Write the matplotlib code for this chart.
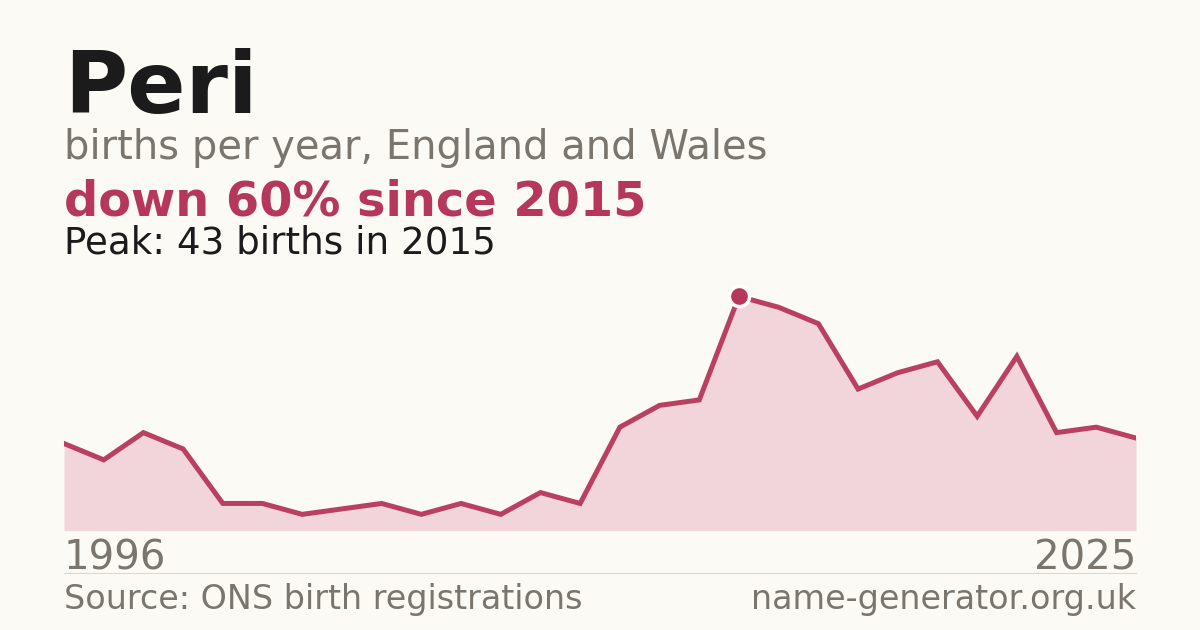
import numpy as np
import matplotlib
matplotlib.use("Agg")
import matplotlib.pyplot as plt

plt.rcParams["font.family"] = ["DejaVu Sans"]

# births per year (years with no published count are skipped)
years = [1996, 1997, 1999, 2000, 2001, 2003, 2004, 2005, 2006, 2007, 2008, 2009, 2010, 2011,
         2012, 2013, 2014, 2015, 2016, 2017, 2018, 2019, 2020, 2021, 2022, 2023, 2024, 2025]
births = [16, 13, 18, 15, 5, 5, 3, 4, 5, 3, 5, 3, 7, 5,
          19, 23, 24, 43, 41, 38, 26, 29, 31, 21, 32, 18, 19, 17]

name = "Peri"
subtitle = "births per year, England and Wales"
source = "Source: ONS birth registrations"
site = "name-generator.org.uk"

bg = "#fbfaf5"
red = "#b5385a"
line_col = "#b94061"
fill = "#f1d5db"
grey = "#7a766e"
dark = "#1b1b1b"

W, H = 1200, 630
fig = plt.figure(figsize=(W / 100, H / 100), dpi=100, facecolor=bg)

def fy(py):
    return 1 - py / H

peak_i = int(np.argmax(births))
peak_year = years[peak_i]
peak_val = births[peak_i]
change = round((births[-1] - peak_val) / peak_val * 100)

# header text
fig.text(64 / W, fy(112.7), name, fontsize=62, fontweight="bold", color=dark, va="baseline")
fig.text(64 / W, fy(159.3), subtitle, fontsize=28.8, color=grey, va="baseline")
fig.text(64 / W, fy(215), "down {}% since {}".format(abs(change), peak_year),
         fontsize=34.5, fontweight="bold", color=red, va="baseline")
fig.text(64 / W, fy(253.3), "Peak: {} births in {}".format(peak_val, peak_year),
         fontsize=26.8, color=dark, va="baseline")

# chart area
ax = fig.add_axes([64 / W, fy(530.7), 1072 / W, 250.7 / H])
ax.set_facecolor(bg)
x = np.arange(len(births))
ax.fill_between(x, 0, births, color=fill, lw=0)
ax.plot(x, births, color=line_col, lw=3.6, solid_joinstyle="miter")
ax.plot(x[peak_i], peak_val, "o", ms=14.5, color=red, mec="white", mew=2.5, clip_on=False, zorder=5)
ax.set_xlim(0, len(births) - 1)
ax.set_ylim(0, peak_val * 1.07)
ax.axis("off")

# year labels
fig.text(64 / W, fy(570), str(years[0]), fontsize=29, color=grey, va="baseline")
fig.text(1136 / W, fy(570), str(years[-1]), fontsize=29, color=grey, va="baseline", ha="right")

# separator and footer
fig.add_artist(plt.Line2D([64 / W, 1136 / W], [fy(573.3), fy(573.3)], color="#dcd8d0", lw=0.8))
fig.text(64 / W, fy(609.5), source, fontsize=24, color=grey, va="baseline")
fig.text(1136 / W, fy(609.5), site, fontsize=24, color=grey, va="baseline", ha="right")

fig.savefig("out.png", dpi=100, facecolor=bg)
